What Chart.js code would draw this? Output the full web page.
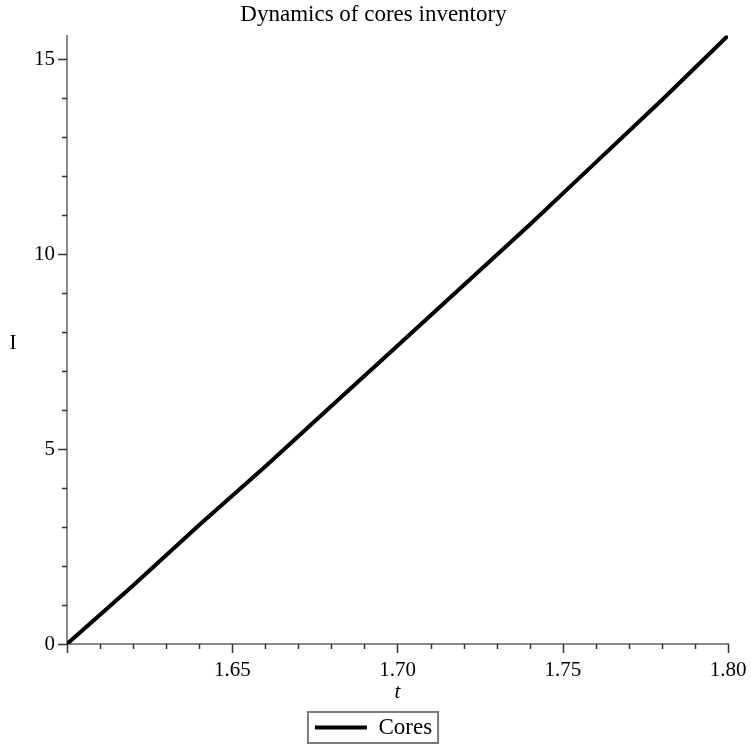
<!DOCTYPE html>
<html>
<head>
<meta charset="utf-8">
<title>Dynamics of cores inventory</title>
<script src="https://cdn.jsdelivr.net/npm/chart.js@4.4.1/dist/chart.umd.min.js"></script>
<style>
  html,body{margin:0;padding:0;background:#fff;}
  #wrap{width:751px;height:744px;position:relative;}
</style>
</head>
<body>
<div id="wrap"><canvas id="grafik"></canvas></div>
<script>
// ===== DATA =====
const tValues     = [1.60, 1.62, 1.64, 1.66, 1.68, 1.70, 1.72, 1.74, 1.76, 1.78, 1.80];
const coresValues = [0, 1.50, 3.05, 4.55, 6.10, 7.65, 9.20, 10.75, 12.35, 13.95, 15.60];
const xTickValues = [1.60,1.61,1.62,1.63,1.64,1.65,1.66,1.67,1.68,1.69,1.70,1.71,1.72,1.73,1.74,1.75,1.76,1.77,1.78,1.79,1.80];
const xTickLabels = ["","","","","","1.65","","","","","1.70","","","","","1.75","","","","","1.80"];
const yTickValues = [0,1,2,3,4,5,6,7,8,9,10,11,12,13,14,15];
const yTickLabels = ["0","","","","","5","","","","","10","","","","","15"];

const SERIF = "'Liberation Serif','Times New Roman',serif";
const AXIS_COLOR = "#8a8a8a";
const TICK_COLOR = "#333";

// ===== PLUGIN: tick marks, y label, legend frame =====
const maplePlugin = {
  id:"maple",
  afterDraw(chart){
    const {ctx, chartArea} = chart;
    const xs = chart.scales.x, ys = chart.scales.y;
    ctx.save();
    ctx.strokeStyle = TICK_COLOR;
    ctx.lineWidth = 1.5;
    // x ticks (down)
    xTickValues.forEach((v,i)=>{
      const px = Math.round(xs.getPixelForValue(v))+0.5;
      const len = i%5===0 ? 9 : 5;
      ctx.beginPath();
      ctx.moveTo(px, chartArea.bottom);
      ctx.lineTo(px, chartArea.bottom+len);
      ctx.stroke();
    });
    // y ticks (left)
    yTickValues.forEach((v,i)=>{
      const py = Math.round(ys.getPixelForValue(v))+0.5;
      const len = i%5===0 ? 9 : 5;
      ctx.beginPath();
      ctx.moveTo(chartArea.left, py);
      ctx.lineTo(chartArea.left-len, py);
      ctx.stroke();
    });
    // y axis label (not rotated)
    ctx.fillStyle = "#000";
    ctx.font = "21px "+SERIF;
    ctx.textAlign = "center";
    ctx.textBaseline = "middle";
    ctx.fillText("I", 13, 343);
    // legend frame
    const hb = chart.legend && chart.legend.legendHitBoxes && chart.legend.legendHitBoxes[0];
    if(hb){
      ctx.strokeStyle = "#7a7a7a";
      ctx.lineWidth = 2;
      ctx.strokeRect(hb.left-7, hb.top-4, hb.width+13, hb.height+8);
    }
    ctx.restore();
  }
};

new Chart(document.getElementById("grafik"),{
  type:"line",
  data:{
    datasets:[{
      label:"Cores",
      data:tValues.map((t,i)=>({x:t, y:coresValues[i]})),
      borderColor:"#000",
      backgroundColor:"#000",
      borderWidth:4,
      pointRadius:0,
      pointStyle:"line",
      tension:0
    }]
  },
  options:{
    responsive:true,
    maintainAspectRatio:false,
    animation:false,
    layout:{ padding:{ left:19, right:23, top:0, bottom:0 } },
    plugins:{
      title:{
        display:true,
        text:"Dynamics of cores inventory",
        color:"#000",
        font:{ family:SERIF, size:23, weight:"normal" },
        padding:{ top:1, bottom:7 }
      },
      legend:{
        position:"bottom",
        maxHeight:36,
        labels:{
          color:"#000",
          font:{ family:SERIF, size:23 },
          usePointStyle:true,
          pointStyle:"line",
          pointStyleWidth:52,
          padding:8
        }
      },
      tooltip:{ enabled:false }
    },
    scales:{
      x:{
        type:"linear",
        min:1.6, max:1.8,
        afterBuildTicks:s=>{ s.ticks = xTickValues.map(v=>({value:v})); },
        afterFit:s=>{ s.height = 64; s.paddingLeft = 0; s.paddingRight = 0; },
        grid:{ display:true, drawOnChartArea:false, drawTicks:false },
        border:{ color:AXIS_COLOR, width:2 },
        ticks:{
          color:"#000",
          font:{ family:SERIF, size:21 },
          padding:14,
          maxRotation:0,
          autoSkip:false,
          callback:(v,i)=>xTickLabels[i]
        },
        title:{
          display:true,
          text:"t",
          color:"#000",
          font:{ family:SERIF, size:21, style:"italic" },
          padding:{ top:0, bottom:3 }
        }
      },
      y:{
        min:0, max:15.6,
        afterBuildTicks:s=>{ s.ticks = yTickValues.map(v=>({value:v})); },
        afterFit:s=>{ s.width = 48; },
        grid:{ display:true, drawOnChartArea:false, drawTicks:false },
        border:{ color:AXIS_COLOR, width:2 },
        ticks:{
          color:"#000",
          font:{ family:SERIF, size:21 },
          padding:12,
          autoSkip:false,
          callback:(v,i)=>yTickLabels[i]
        }
      }
    }
  },
  plugins:[maplePlugin]
});
</script>
</body>
</html>
